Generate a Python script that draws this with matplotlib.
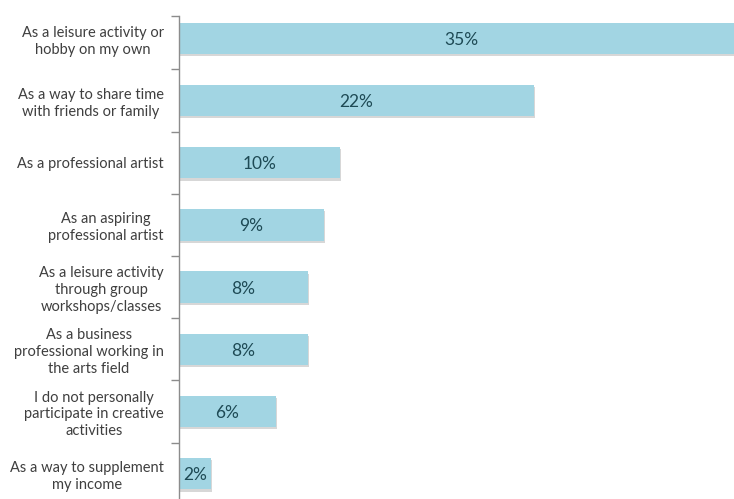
import matplotlib
matplotlib.use("Agg")
import matplotlib.pyplot as plt
import matplotlib.patheffects as pe
import numpy as np

categories = [
    "As a leisure activity or\nhobby on my own",
    "As a way to share time\nwith friends or family",
    "As a professional artist",
    "As an aspiring\nprofessional artist",
    "As a leisure activity\nthrough group\nworkshops/classes",
    "As a business\nprofessional working in\nthe arts field",
    "I do not personally\nparticipate in creative\nactivities",
    "As a way to supplement\nmy income",
]
values = [35, 22, 10, 9, 8, 8, 6, 2]
value_labels = ["35%", "22%", "10%", "9%", "8%", "8%", "6%", "2%"]

plt.rcParams['font.family'] = ['Lato', 'DejaVu Sans']

W, H = 734, 499
fig = plt.figure(figsize=(W / 100, H / 100), dpi=100)

# axis spans from x=179px to the right edge; 8 category rows of 62.2px
left_px, top_px, row_px = 179, 7.2, 62.2
n = len(categories)
bottom_px = top_px + n * row_px
ax = fig.add_axes([left_px / W, (H - bottom_px) / H,
                   (W - left_px) / W, (bottom_px - top_px) / H])

px_per_unit = 16.13
ax.set_xlim(0, (W - left_px) / px_per_unit)
ax.set_ylim(n - 0.5, -0.5)

y = np.arange(n)
bars = ax.barh(y, values, height=0.506, color="#a2d5e3", zorder=2)
for b in bars:
    b.set_path_effects([pe.SimplePatchShadow(offset=(0.8, -1.6), shadow_rgbFace="#a8a8a8", alpha=0.45),
                        pe.Normal()])

for yi, v, lab in zip(y, values, value_labels):
    ax.text(v / 2, yi, lab, ha="center", va="center_baseline", fontsize=12.5,
            color="#1e4a55", zorder=3)

ax.set_yticks(y)
ax.set_yticklabels(categories, fontsize=10.5, color="#3f3f3f")
for t in ax.get_yticklabels():
    t.set_multialignment("center")
    t.set_linespacing(1.25)
ax.tick_params(axis="y", which="major", length=0, pad=11)

# the axis line starts a little below the top of the first row
spine_top = -0.5 + 8.3 / row_px
ax.set_yticks([spine_top] + list(np.arange(1, n + 1) - 0.5), minor=True)
ax.tick_params(axis="y", which="minor", length=6, color="#8c8c8c", width=1)

ax.set_xticks([])
for s in ("top", "right", "bottom"):
    ax.spines[s].set_visible(False)
ax.spines["left"].set_color("#8c8c8c")
ax.spines["left"].set_linewidth(1)
ax.spines["left"].set_bounds(n - 0.5, spine_top)

fig.savefig("out.png", dpi=100)
